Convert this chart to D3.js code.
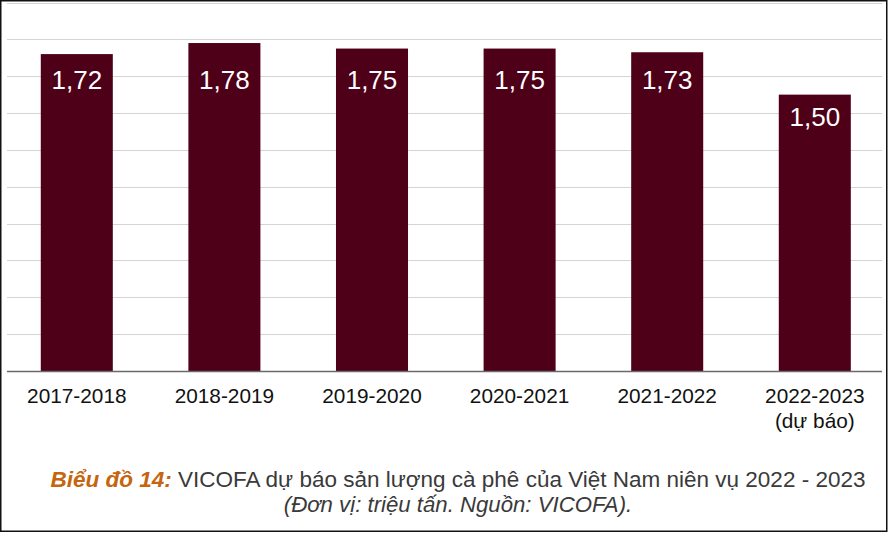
<!DOCTYPE html>
<html><head><meta charset="utf-8">
<script src="https://cdn.jsdelivr.net/npm/d3@7"></script>
<style>html,body{margin:0;padding:0;background:#fff;}svg{display:block;}</style>
</head><body>
<svg id="c" width="891" height="533"></svg>
<script>
const categories = ["2017-2018","2018-2019","2019-2020","2020-2021","2021-2022","2022-2023"];
const subLabels = ["","","","","","(dự báo)"];
const values = [1.72,1.78,1.75,1.75,1.73,1.50];
const valueLabels = ["1,72","1,78","1,75","1,75","1,73","1,50"];
const yTicks = [0,0.2,0.4,0.6,0.8,1.0,1.2,1.4,1.6,1.8,2.0];
const captionBold = "Biểu đồ 14:";
const captionRest = " VICOFA dự báo sản lượng cà phê của Việt Nam niên vụ 2022 - 2023";
const captionLine2 = "(Đơn vị: triệu tấn. Nguồn: VICOFA).";

const svg = d3.select("#c");
const font = "'Liberation Sans', Arial, sans-serif";

const y = d3.scaleLinear().domain([0,2]).range([371,2.5]);
const x = d3.scaleBand().domain(categories).range([3,888.6]).paddingInner(0.512).paddingOuter(0.256);
const gridX0 = 7, gridX1 = 882;

// gridlines
svg.append("g").selectAll("line").data(yTicks.filter(d=>d>0)).join("line")
  .attr("x1",gridX0).attr("x2",gridX1)
  .attr("y1",d=>Math.round(y(d))+0.5).attr("y2",d=>Math.round(y(d))+0.5)
  .attr("stroke","#d4d4d4").attr("stroke-width",1.2);

// border
svg.append("rect").attr("x",0.75).attr("y",0.75).attr("width",886).attr("height",530.5)
  .attr("fill","none").attr("stroke","#111").attr("stroke-width",1.5);

// bars
svg.append("g").selectAll("rect").data(values).join("rect")
  .attr("x",(d,i)=>x(categories[i])).attr("width",x.bandwidth())
  .attr("y",d=>y(d)).attr("height",d=>y(0)-y(d))
  .attr("fill","#4e0019");

// baseline
svg.append("line").attr("x1",gridX0).attr("x2",gridX1).attr("y1",y(0)+0.5).attr("y2",y(0)+0.5)
  .attr("stroke","#6a6a6a").attr("stroke-width",1.5);

// value labels (inside bar, not higher than a common top line)
const labelTop = y(1.72) + 35;
svg.append("g").selectAll("text").data(values).join("text")
  .attr("x",(d,i)=>x(categories[i])+x.bandwidth()/2)
  .attr("y",d=>Math.max(y(d)+31, labelTop))
  .attr("text-anchor","middle").attr("fill","#fff")
  .style("font-family",font).style("font-size","26px")
  .text((d,i)=>valueLabels[i]);

// x labels
const xl = svg.append("g");
categories.forEach((c,i)=>{
  const cx = x(c)+x.bandwidth()/2;
  xl.append("text").attr("x",cx).attr("y",403).attr("text-anchor","middle")
    .attr("fill","#111").style("font-family",font).style("font-size","20.8px").text(c);
  if(subLabels[i]) xl.append("text").attr("x",cx).attr("y",428).attr("text-anchor","middle")
    .attr("fill","#111").style("font-family",font).style("font-size","20.8px").text(subLabels[i]);
});

// caption
const cap = svg.append("text").attr("x",458).attr("y",487).attr("text-anchor","middle")
  .style("font-family",font).style("font-size","22.5px");
cap.append("tspan").attr("fill","#c5650f").style("font-weight","bold").style("font-style","italic").text(captionBold);
cap.append("tspan").attr("fill","#3a3a3a").text(captionRest);
svg.append("text").attr("x",458).attr("y",512).attr("text-anchor","middle")
  .attr("fill","#3a3a3a").style("font-family",font).style("font-size","22.2px").style("font-style","italic")
  .text(captionLine2);
</script>
</body></html>
